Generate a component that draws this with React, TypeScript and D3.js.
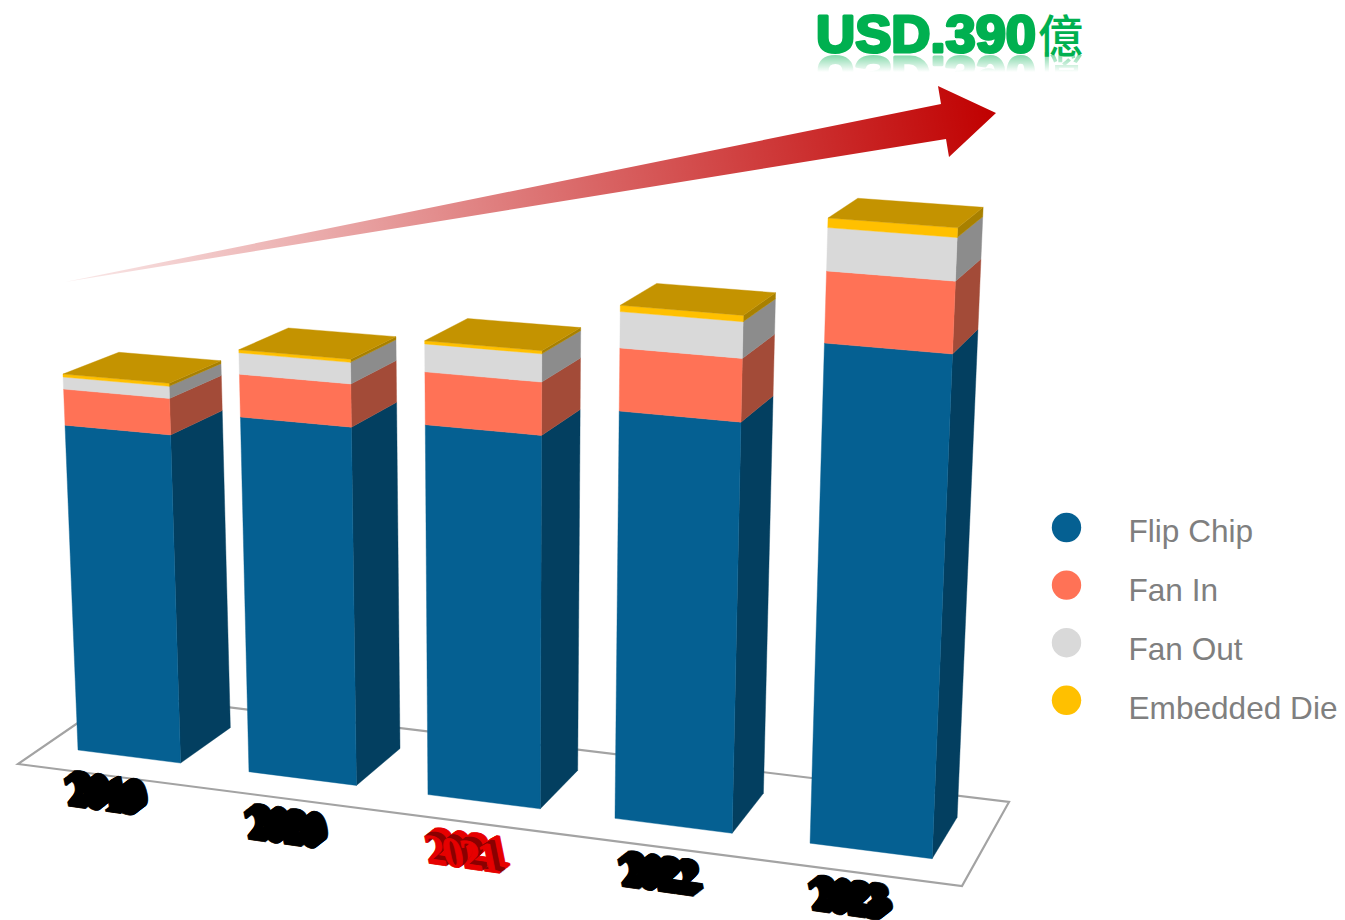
import React from "react";
import * as d3 from "d3";

const years = ["2019", "2020", "2021", "2022", "2023"];
const flipChip = [216, 232, 238, 258, 312];
const fanIn = [24, 28, 34, 40, 45];
const fanOut = [8, 14, 18, 23, 27];
const embeddedDie = [2, 2, 2, 4, 6];
const seriesNames = ["Flip Chip", "Fan In", "Fan Out", "Embedded Die"];
const seriesKeys = ["flipChip", "fanIn", "fanOut", "embeddedDie"];
const frontColors = ["#056092", "#FF7256", "#D9D9D9", "#FFC000"];
const sideColors = ["#033F60", "#A34B38", "#8C8C8C", "#A88000"];
const topColor = "#C49300";
const titleText = "USD.390";
const titleUnit = "億";

const rows = years.map((y, i) => ({
  year: y,
  flipChip: flipChip[i],
  fanIn: fanIn[i],
  fanOut: fanOut[i],
  embeddedDie: embeddedDie[i],
}));
const stacked = d3.stack<any>().keys(seriesKeys)(rows);

// perspective layout
const vp = [505, 11437];
const band = d3.scaleBand<string>().domain(years).range([0, 1]).paddingInner(0.385);
const barWidth = band.bandwidth() * 0.985;
const heightScale = d3.scaleLinear().domain([0, 390]).range([0, 0.05965]);
const depthX = d3.scaleLinear().domain([0, 1]).range([53.5, 25]);
const depthY = d3.scaleLinear().domain([0, 1]).range([-34.5, -41.5]);
const labelDx = [0, 5, 3, 5, -4];
const labelDy = [-8, 3, 4, 3, 2];

function floorPt(u: number, v: number): [number, number] {
  const fx = 78 + 856 * (u * 0.9 + 0.1 * u * u);
  const fy = 750 + 0.1273 * (fx - 78);
  return [fx + v * depthX(u), fy + v * depthY(u)];
}
function project(u: number, v: number, value: number): [number, number] {
  const [x, y] = floorPt(u, v);
  const w = (1 - 0.037 * v) * (1 - 0.08 * (1 - u));
  const t = heightScale(value) * w;
  return [x + (x - vp[0]) * t, y + (y - vp[1]) * t];
}
const poly = d3.line();

function Bar({ i }: { i: number }) {
  const year = years[i];
  const u0 = band(year)!;
  const u1 = u0 + barWidth;
  const top = stacked[stacked.length - 1][i][1];
  return (
    <g>
      {stacked.map((s, k) => {
        const [a, b] = s[i];
        return (
          <g key={k}>
            <path
              d={poly([project(u1, 0, a), project(u1, 1, a), project(u1, 1, b), project(u1, 0, b)])! + "Z"}
              fill={sideColors[k]}
              stroke={sideColors[k]}
              strokeWidth={0.4}
            />
            <path
              d={poly([project(u0, 0, a), project(u1, 0, a), project(u1, 0, b), project(u0, 0, b)])! + "Z"}
              fill={frontColors[k]}
              stroke={frontColors[k]}
              strokeWidth={0.4}
            />
          </g>
        );
      })}
      <path
        d={poly([project(u0, 0, top), project(u1, 0, top), project(u1, 1, top), project(u0, 1, top)])! + "Z"}
        fill={topColor}
        stroke={topColor}
        strokeWidth={0.4}
      />
    </g>
  );
}

const extrude = d3.range(13, -1, -1);
function YearLabel({ i }: { i: number }) {
  const year = years[i];
  const u = band(year)! + band.bandwidth() / 2;
  const [x, y] = floorPt(u, 0);
  const highlighted = year === "2021";
  const ox = x - 63 + i * 1.5 + labelDx[i];
  const oy = y + 57.5 + labelDy[i];
  return (
    <g>
      {extrude.map((n) => {
        const c = highlighted ? (n === 0 || n > 6 ? "#E60000" : "#8A0000") : "#000";
        return (
          <text
            key={n}
            transform={`translate(${ox + n * 0.8},${oy - n * 0.62}) matrix(0.95,0.13,0.2,1,0,0)`}
            fontFamily="'Liberation Serif', serif"
            fontWeight="bold"
            fontSize={43}
            letterSpacing={-2.6}
            stroke={c}
            strokeWidth={0.8}
            fill={c}
          >
            {year}
          </text>
        );
      })}
    </g>
  );
}

function Title() {
  const main = (
    <>
      <text x={816} y={52} fontFamily="'Liberation Sans', sans-serif" fontWeight="bold" fontSize={51} stroke="#00B050" strokeWidth={3} strokeLinejoin="round" fill="#00B050" textLength={220} lengthAdjust="spacingAndGlyphs">{titleText}</text>
      <text x={1038} y={53} fontFamily="'Noto Sans CJK TC'" fontWeight={500} fontSize={45} fill="#00B050">{titleUnit}</text>
    </>
  );
  return (
    <g>
      <g mask="url(#reflMask)">
        <g transform="translate(0,109) scale(1,-1)">{main}</g>
      </g>
      {main}
    </g>
  );
}

export default function App() {
  return (
    <svg
      width={1345}
      height={920}
      viewBox="0 0 1345 920"
      style={{ position: "fixed", left: 0, top: 0, background: "#fff" }}
    >
      <defs>
        <linearGradient id="arrowFill" gradientUnits="userSpaceOnUse" x1={65} y1={282} x2={996} y2={113}>
          <stop offset="0" stopColor="#C00000" stopOpacity={0.08} />
          <stop offset="1" stopColor="#C00000" stopOpacity={1} />
        </linearGradient>
        <linearGradient id="reflFade" gradientUnits="userSpaceOnUse" x1={0} y1={54} x2={0} y2={72}>
          <stop offset="0" stopColor="#fff" stopOpacity={0.5} />
          <stop offset="1" stopColor="#fff" stopOpacity={0} />
        </linearGradient>
        <mask id="reflMask" maskUnits="userSpaceOnUse" x={800} y={50} width={300} height={30}>
          <rect x={800} y={50} width={300} height={30} fill="url(#reflFade)" />
        </mask>
      </defs>

      {/* floor */}
      <path
        d="M18,764 L962,886 L1009,802 L120,694 Z"
        fill="none"
        stroke="#A3A3A3"
        strokeWidth={2.2}
      />

      {/* growth arrow */}
      <path
        d="M65,282 L941,104 L938,86 L996,113 L949,157 L946,139 Z"
        fill="url(#arrowFill)"
      />

      {years.map((_, i) => (
        <Bar key={i} i={i} />
      ))}
      {years.map((_, i) => (
        <YearLabel key={i} i={i} />
      ))}

      <Title />

      {/* legend */}
      {seriesNames.map((name, k) => (
        <g key={name}>
          <circle cx={1066.5} cy={527.5 + k * 57.6} r={14.7} fill={frontColors[k]} />
          <text
            x={1128.5}
            y={542 + k * 59}
            fontFamily="'Liberation Sans', Arial, sans-serif"
            fontSize={31.6}
            fill="#7F7F7F"
          >
            {name}
          </text>
        </g>
      ))}
    </svg>
  );
}
